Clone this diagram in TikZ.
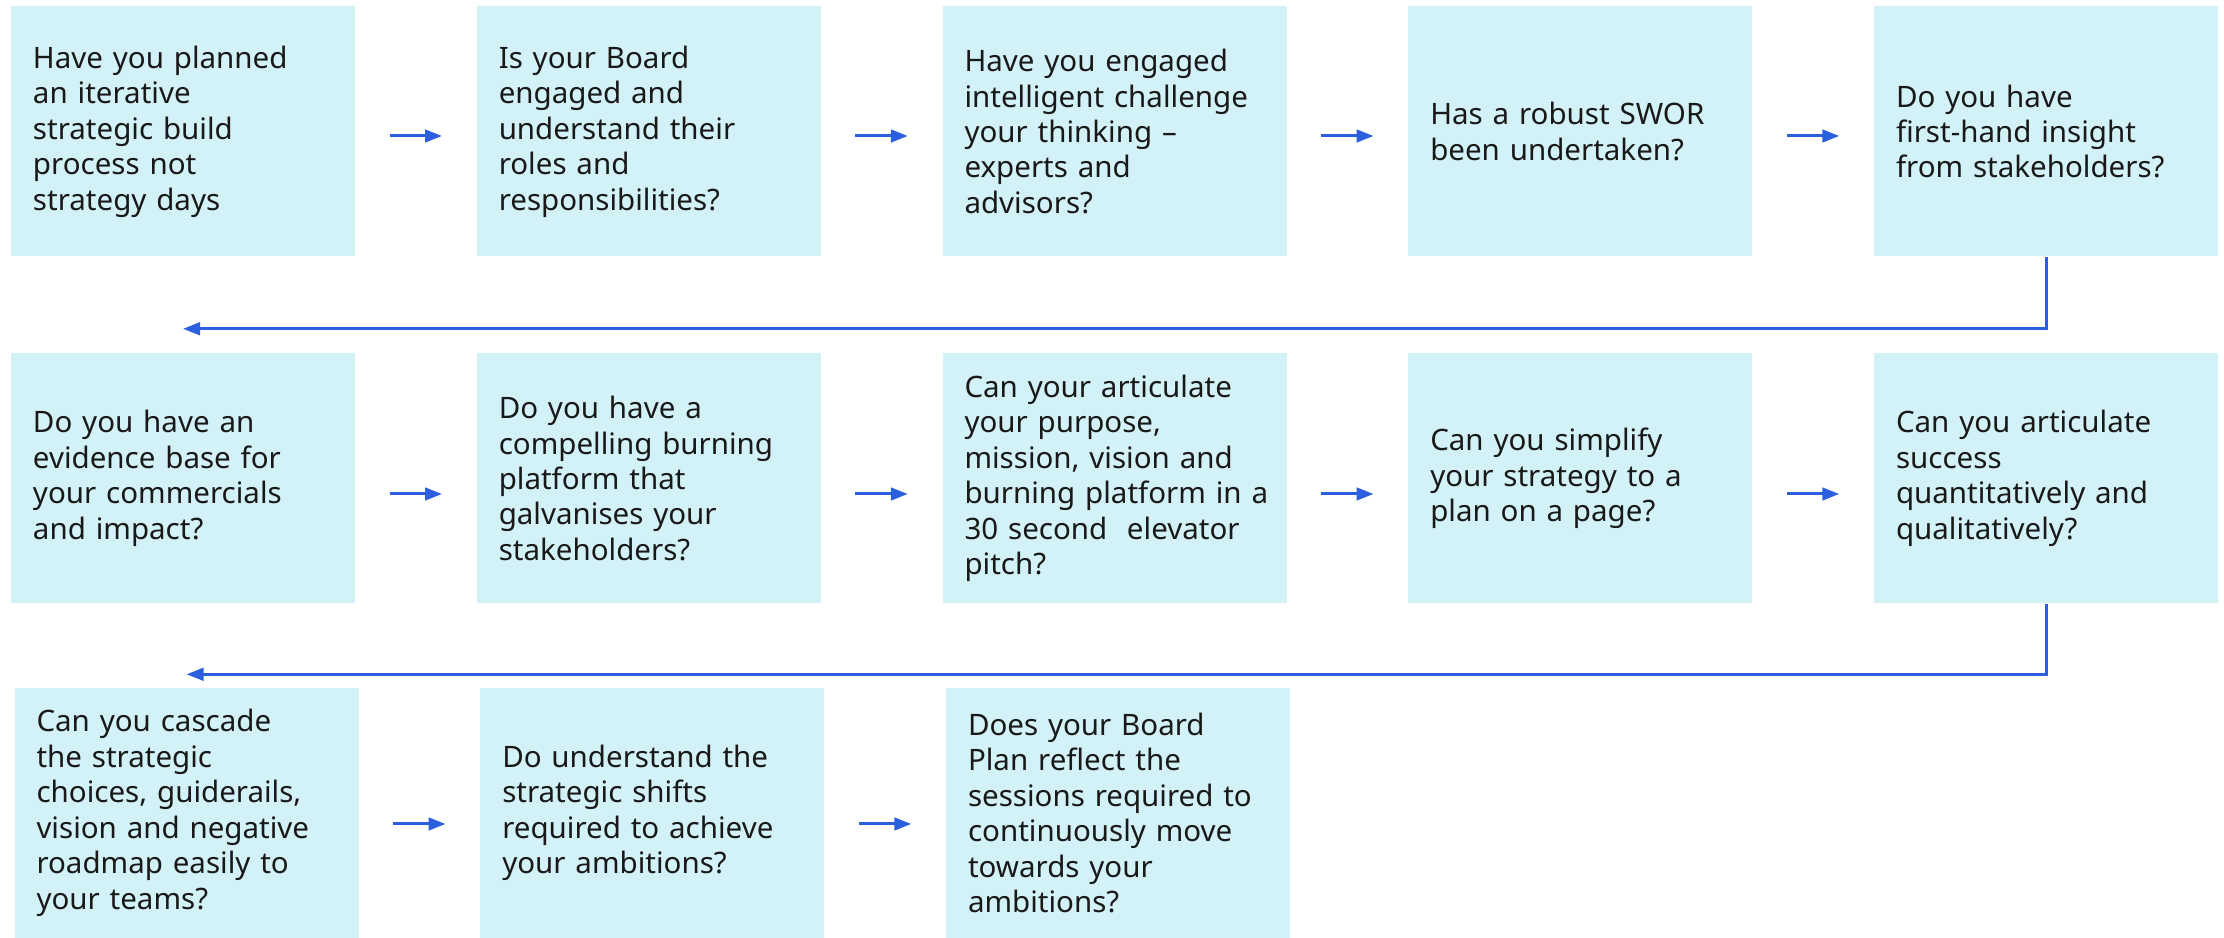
\documentclass[tikz,border=0pt]{standalone}
\usepackage{fontspec}
\setmainfont{Noto Sans}
\usetikzlibrary{arrows.meta}

\definecolor{boxcyan}{HTML}{D3F2F7}
\definecolor{flowblue}{HTML}{2B5FDE}

\begin{document}
\begin{tikzpicture}[
          font=\fontsize{8.4}{10.1}\selectfont,
          question box/.style={fill=boxcyan, text=black!90, text width=3.0cm, inner xsep=0.22cm, inner ysep=0pt, minimum height=2.5cm, align=left},
          flow arrow/.style={draw=flowblue, line width=0.85pt, -{Triangle[length=1.7mm, width=1.25mm]}},
      ]

      \useasboundingbox (0,0) rectangle (22.24,9.38);

      % The 13 questions, five per row, read left to right
      \def\questions{
          {Have you planned\\an iterative\\strategic build\\process not\\strategy days},
          {Is your Board\\engaged and\\understand their\\roles and\\responsibilities?},
          {Have you engaged\\intelligent challenge\\your thinking --\\experts and\\advisors?},
          {Has a robust SWOR\\been undertaken?},
          {Do you have\\first-hand insight\\from stakeholders?},
          {Do you have an\\evidence base for\\your commercials\\and impact?},
          {Do you have a\\compelling burning\\platform that\\galvanises your\\stakeholders?},
          {Can your articulate\\your purpose,\\mission, vision and\\\mbox{burning platform in a}\\30 second~ elevator\\pitch?},
          {Can you simplify\\your strategy to a\\plan on a page?},
          {Can you articulate\\success\\quantitatively and\\qualitatively?},
          {Can you cascade\\the strategic\\choices, guiderails,\\vision and negative\\roadmap easily to\\your teams?},
          {Do understand the\\strategic shifts\\required to achieve\\your ambitions?},
          {Does your Board\\Plan reflect the\\sessions required to\\continuously move\\towards your\\ambitions?}
      }

      % Place the boxes q0 ... q12
      \foreach \txt [count=\idx from 0] in \questions {
          % column 0..4 and row 0..2
          \pgfmathtruncatemacro{\qcol}{mod(\idx, 5)}
          \pgfmathtruncatemacro{\qrow}{floor(\idx / 5)}
          % last row sits a little to the right
          \pgfmathsetmacro{\qx}{1.83 + 4.6575*\qcol + (\qrow==2)*0.035}
          \pgfmathsetmacro{\qy}{{8.065,4.595,1.25}[\qrow]}
          \node[question box] (q\idx) at (\qx, \qy) {\txt};
      }

      % Short arrows between neighbours in a row
      \foreach \a/\b/\dy in {0/1/-0.045, 1/2/-0.045, 2/3/-0.045, 3/4/-0.045,
                             5/6/-0.155, 6/7/-0.155, 7/8/-0.155, 8/9/-0.155,
                             10/11/-0.11, 11/12/-0.11} {
          \draw[flow arrow, shorten <=0.34cm, shorten >=0.34cm]
              ([yshift=\dy cm]q\a.east) -- ([yshift=\dy cm]q\b.west);
      }

      % Return lines from the end of a row to the start of the next
      \draw[flow arrow] (q4.south) |- ([yshift=0.24cm]q5.north);
      \draw[flow arrow] (q9.south) |- ([yshift=0.13cm]q10.north);

      \end{tikzpicture}
\end{document}
